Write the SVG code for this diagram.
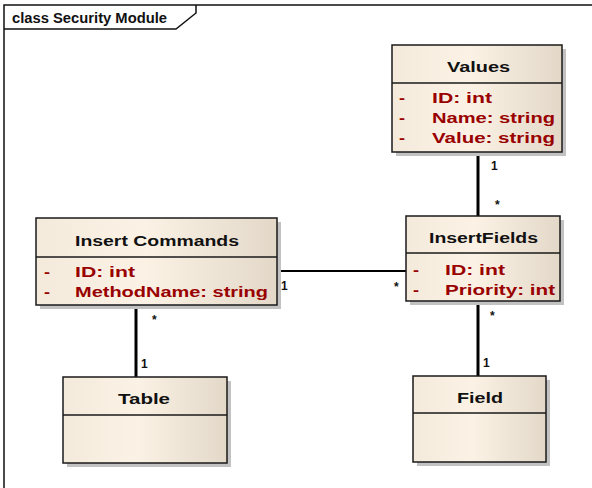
<svg xmlns="http://www.w3.org/2000/svg" width="592" height="488" viewBox="0 0 592 488">
  <style>
    .box { fill: url(#classFill); stroke: #1a1a1a; stroke-width: 1.5; }
    .shadow { fill: #c2c2c2; }
    .div { stroke: #1a1a1a; stroke-width: 1.5; }
    .title { font-family: "Liberation Sans", Arial, sans-serif; font-weight: bold; font-size: 14px; fill: #111; }
    .attr { font-family: "Liberation Sans", Arial, sans-serif; font-weight: bold; font-size: 14px; fill: #990000; }
    .mult { font-family: "Liberation Sans", Arial, sans-serif; font-weight: bold; font-size: 12px; fill: #111; }
    .frame { fill: none; stroke: #111; stroke-width: 1.5; }
    .conn { stroke: #000; fill: none; }
  </style>
  <defs>
    <linearGradient id="classFill" x1="0" y1="0" x2="1" y2="0">
      <stop offset="0" stop-color="#f4eadc"/>
      <stop offset="0.45" stop-color="#fbf2e5"/>
      <stop offset="1" stop-color="#e3d8c8"/>
    </linearGradient>
  </defs>

  <rect width="592" height="488" fill="#fff"/>

  <!-- package frame -->
  <g id="frame">
    <path class="frame" d="M4,488 V5 H592"/>
    <path class="frame" d="M4,29 H176 L196,13 V5"/>
    <text class="title" x="12" y="23" textLength="155" lengthAdjust="spacingAndGlyphs">class Security Module</text>
  </g>

  <!-- associations -->
  <g id="connectors">
    <line class="conn" x1="478" y1="152" x2="478" y2="216" stroke-width="3"/>
    <line class="conn" x1="277" y1="271" x2="406" y2="271" stroke-width="2"/>
    <line class="conn" x1="136" y1="305" x2="136" y2="377" stroke-width="3"/>
    <line class="conn" x1="478" y1="301" x2="478" y2="376" stroke-width="3"/>
    <text class="mult" x="491" y="170">1</text>
    <text class="mult" x="495" y="209">*</text>
    <text class="mult" x="281" y="290">1</text>
    <text class="mult" x="394" y="291">*</text>
    <text class="mult" x="152" y="324">*</text>
    <text class="mult" x="141" y="368">1</text>
    <text class="mult" x="490" y="320">*</text>
    <text class="mult" x="483" y="367">1</text>
  </g>

  <g id="Values">
    <rect class="shadow" x="396" y="49" width="170" height="107"/>
    <rect class="box" x="392" y="45" width="170" height="107"/>
    <line class="div" x1="392" y1="83" x2="562" y2="83"/>
    <text class="title" x="447" y="72" textLength="63" lengthAdjust="spacingAndGlyphs">Values</text>
    <text class="attr" x="399" y="103" textLength="6" lengthAdjust="spacingAndGlyphs">-</text>
    <text class="attr" x="432" y="103" textLength="60" lengthAdjust="spacingAndGlyphs">ID:  int</text>
    <text class="attr" x="399" y="123" textLength="6" lengthAdjust="spacingAndGlyphs">-</text>
    <text class="attr" x="432" y="123" textLength="123" lengthAdjust="spacingAndGlyphs">Name:  string</text>
    <text class="attr" x="399" y="143" textLength="6" lengthAdjust="spacingAndGlyphs">-</text>
    <text class="attr" x="432" y="143" textLength="123" lengthAdjust="spacingAndGlyphs">Value:  string</text>
  </g>

  <g id="InsertCommands">
    <rect class="shadow" x="40" y="222" width="241" height="87"/>
    <rect class="box" x="36" y="218" width="241" height="87"/>
    <line class="div" x1="36" y1="257" x2="277" y2="257"/>
    <text class="title" x="75" y="246" textLength="164" lengthAdjust="spacingAndGlyphs">Insert Commands</text>
    <text class="attr" x="44" y="277" textLength="6" lengthAdjust="spacingAndGlyphs">-</text>
    <text class="attr" x="75" y="277" textLength="60" lengthAdjust="spacingAndGlyphs">ID:  int</text>
    <text class="attr" x="44" y="297" textLength="6" lengthAdjust="spacingAndGlyphs">-</text>
    <text class="attr" x="75" y="297" textLength="193" lengthAdjust="spacingAndGlyphs">MethodName:  string</text>
  </g>

  <g id="InsertFields">
    <rect class="shadow" x="410" y="220" width="154" height="85"/>
    <rect class="box" x="406" y="216" width="154" height="85"/>
    <line class="div" x1="406" y1="253" x2="560" y2="253"/>
    <text class="title" x="429" y="243" textLength="109" lengthAdjust="spacingAndGlyphs">InsertFields</text>
    <text class="attr" x="413" y="275" textLength="6" lengthAdjust="spacingAndGlyphs">-</text>
    <text class="attr" x="445" y="275" textLength="60" lengthAdjust="spacingAndGlyphs">ID:  int</text>
    <text class="attr" x="413" y="295" textLength="6" lengthAdjust="spacingAndGlyphs">-</text>
    <text class="attr" x="445" y="295" textLength="110" lengthAdjust="spacingAndGlyphs">Priority:  int</text>
  </g>

  <g id="Table">
    <rect class="shadow" x="67" y="381" width="164" height="86"/>
    <rect class="box" x="63" y="377" width="164" height="86"/>
    <line class="div" x1="63" y1="415" x2="227" y2="415"/>
    <text class="title" x="118" y="404" textLength="52" lengthAdjust="spacingAndGlyphs">Table</text>
  </g>

  <g id="Field">
    <rect class="shadow" x="417" y="380" width="133" height="86"/>
    <rect class="box" x="413" y="376" width="133" height="86"/>
    <line class="div" x1="413" y1="413" x2="546" y2="413"/>
    <text class="title" x="457" y="403" textLength="46" lengthAdjust="spacingAndGlyphs">Field</text>
  </g>
</svg>
